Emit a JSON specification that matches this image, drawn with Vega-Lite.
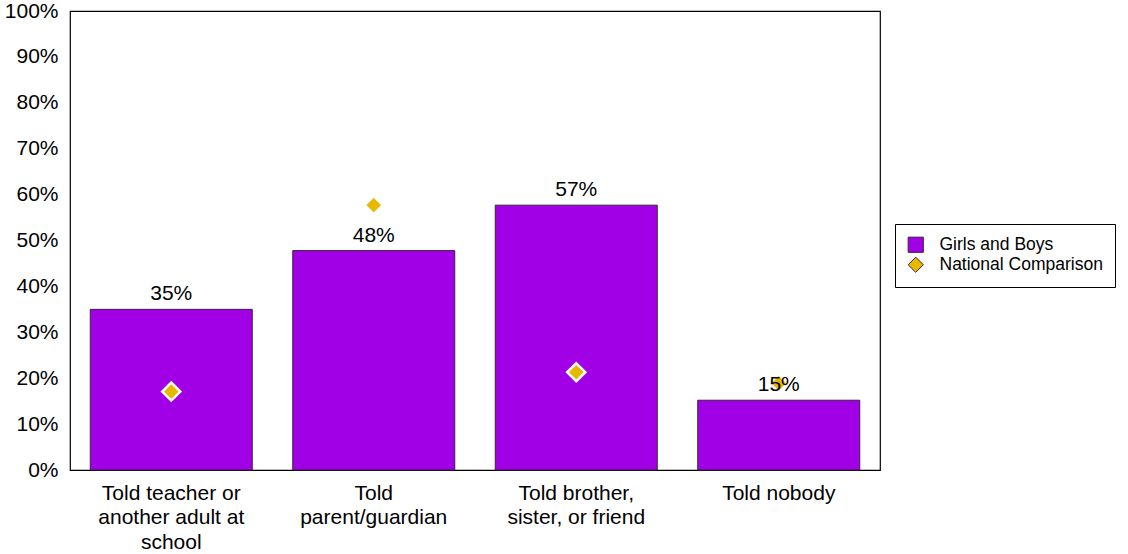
{
  "$schema": "https://vega.github.io/schema/vega-lite/v6.json",
  "width": 810,
  "height": 459,
  "autosize": {"type": "none"},
  "padding": {"left": 70, "top": 11, "right": 248, "bottom": 84},
  "background": "white",
  "config": {
    "font": "Liberation Sans",
    "view": {"stroke": "black", "strokeWidth": 1.2},
    "axis": {"labelFont": "Liberation Sans", "labelColor": "black", "domain": false, "ticks": false, "grid": false, "title": null},
    "legend": {
      "orient": "none",
      "legendX": 825,
      "legendY": 213,
      "fillColor": "white",
      "strokeColor": "black",
      "padding": 12,
      "rowPadding": 0,
      "labelFontSize": 17.5,
      "labelFont": "Liberation Sans",
      "labelColor": "black",
      "labelOffset": 15,
      "labelLimit": 400,
      "symbolSize": 230,
      "symbolStrokeWidth": 1
    }
  },
  "data": {
    "values": [
      {"category": "Told teacher or|another adult at|school", "order": 1, "pct": 0.350, "label": "35%", "national": 0.171},
      {"category": "Told|parent/guardian", "order": 2, "pct": 0.478, "label": "48%", "national": 0.577},
      {"category": "Told brother,|sister, or friend", "order": 3, "pct": 0.577, "label": "57%", "national": 0.213},
      {"category": "Told nobody", "order": 4, "pct": 0.152, "label": "15%", "national": 0.189}
    ]
  },
  "encoding": {
    "x": {
      "field": "category",
      "type": "nominal",
      "sort": {"field": "order"},
      "scale": {"paddingInner": 0.2, "paddingOuter": 0.1},
      "axis": {"labelAngle": 0, "labelFontSize": 21, "labelLineHeight": 24.5, "labelPadding": 12, "labelExpr": "split(datum.label, '|')", "labelLimit": 300}
    }
  },
  "layer": [
    {
      "mark": {"type": "bar", "stroke": "#3a2040", "strokeWidth": 1},
      "encoding": {
        "y": {
          "field": "pct",
          "type": "quantitative",
          "scale": {"domain": [0, 1]},
          "axis": {"format": ".0%", "values": [0, 0.1, 0.2, 0.3, 0.4, 0.5, 0.6, 0.7, 0.8, 0.9, 1], "labelFontSize": 21, "labelPadding": 12}
        },
        "color": {
          "datum": "Girls and Boys",
          "type": "nominal",
          "scale": {"domain": ["Girls and Boys", "National Comparison"], "range": ["#A100E6", "#E6B800"]},
          "legend": {"title": null}
        }
      }
    },
    {
      "mark": {"type": "point", "filled": true, "size": 330, "stroke": "white", "strokeWidth": 2.5, "opacity": 1},
      "encoding": {
        "y": {"field": "national", "type": "quantitative"},
        "color": {"datum": "National Comparison", "type": "nominal", "legend": {"title": null}},
        "shape": {
          "datum": "National Comparison",
          "type": "nominal",
          "scale": {"domain": ["Girls and Boys", "National Comparison"], "range": ["square", "diamond"]},
          "legend": {
            "title": null,
            "encode": {
              "symbols": {
                "size": {"value": {"expr": "datum.value == 'National Comparison' ? 80 : 230"}},
                "stroke": {"value": {"expr": "datum.value == 'National Comparison' ? '#f3e7b8' : '#3a2040'"}}
              }
            }
          }
        }
      }
    },
    {
      "mark": {"type": "text", "fontSize": 21, "baseline": "alphabetic", "dy": -9, "color": "black"},
      "encoding": {
        "y": {"field": "pct", "type": "quantitative"},
        "text": {"field": "label"}
      }
    }
  ]
}
